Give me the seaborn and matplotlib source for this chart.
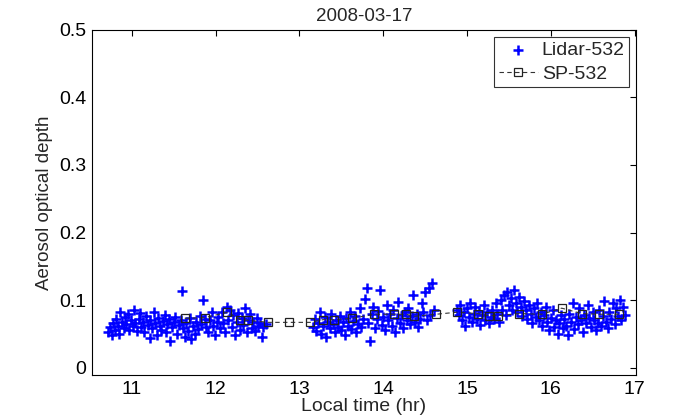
import matplotlib
matplotlib.use("Agg")
import matplotlib.pyplot as plt
import seaborn as sns
import pandas as pd

# Lidar-532 data (local time hr, AOD)
lidar_t1 = [10.72, 10.74, 10.76, 10.78, 10.80, 10.81, 10.83, 10.85, 10.86, 10.88, 10.90, 10.92, 10.93, 10.95, 10.97, 10.99,
            11.01, 11.02, 11.04, 11.06, 11.08, 11.10, 11.11, 11.13, 11.15, 11.17, 11.19, 11.21, 11.22, 11.24, 11.26, 11.28,
            11.30, 11.31, 11.33, 11.35, 11.37, 11.39, 11.41, 11.42, 11.44, 11.46, 11.48, 11.50, 11.52, 11.54, 11.56, 11.58,
            11.60, 11.61, 11.63, 11.65, 11.67, 11.69, 11.71, 11.73, 11.75, 11.77, 11.79, 11.81, 11.83, 11.85, 11.87, 11.89,
            11.91, 11.93, 11.95, 11.97, 11.99, 12.01, 12.03, 12.05, 12.07, 12.09, 12.11, 12.13, 12.15, 12.17, 12.19, 12.21,
            12.23, 12.25, 12.27, 12.29, 12.31, 12.33, 12.35, 12.37, 12.39, 12.41, 12.43, 12.45, 12.47, 12.49, 12.51, 12.53,
            12.55, 12.57, 12.60]
lidar_v1 = [0.052, 0.060, 0.048, 0.066, 0.055, 0.072, 0.061, 0.050, 0.083, 0.068, 0.058, 0.075, 0.064, 0.079, 0.056, 0.070,
            0.062, 0.085, 0.066, 0.054, 0.072, 0.081, 0.060, 0.068, 0.052, 0.077, 0.063, 0.044, 0.070, 0.058, 0.082, 0.066,
            0.049, 0.074, 0.061, 0.056, 0.069, 0.078, 0.053, 0.064, 0.072, 0.040, 0.060, 0.067, 0.075, 0.050, 0.063, 0.071,
            0.113, 0.058, 0.046, 0.066, 0.054, 0.074, 0.042, 0.062, 0.050, 0.068, 0.057, 0.077, 0.064, 0.100, 0.072, 0.060,
            0.052, 0.070, 0.083, 0.061, 0.048, 0.068, 0.075, 0.058, 0.082, 0.066, 0.053, 0.090, 0.071, 0.086, 0.060, 0.078,
            0.048, 0.068, 0.081, 0.056, 0.073, 0.063, 0.088, 0.052, 0.070, 0.079, 0.059, 0.067, 0.054, 0.074, 0.062, 0.066,
            0.045, 0.060, 0.064]
lidar_t2 = [13.16, 13.18, 13.20, 13.22, 13.24, 13.26, 13.28, 13.30, 13.32, 13.34, 13.36, 13.38, 13.40, 13.42, 13.44, 13.46,
            13.48, 13.50, 13.52, 13.54, 13.56, 13.58, 13.60, 13.62, 13.64, 13.66, 13.68, 13.70, 13.72, 13.74, 13.76, 13.78,
            13.80, 13.82, 13.84, 13.86, 13.88, 13.90, 13.92, 13.94, 13.96, 13.98, 14.00, 14.02, 14.04, 14.06, 14.08, 14.10,
            14.12, 14.14, 14.16, 14.18, 14.20, 14.22, 14.24, 14.26, 14.28, 14.30, 14.32, 14.34, 14.36, 14.38, 14.40, 14.42,
            14.44, 14.46, 14.48, 14.50, 14.52, 14.54, 14.56, 14.58, 14.60]
lidar_v2 = [0.060, 0.072, 0.054, 0.066, 0.082, 0.050, 0.062, 0.075, 0.045, 0.068, 0.058, 0.080, 0.064, 0.052, 0.071, 0.060,
            0.077, 0.056, 0.068, 0.048, 0.073, 0.062, 0.083, 0.057, 0.069, 0.076, 0.053, 0.065, 0.088, 0.060, 0.072, 0.102,
            0.118, 0.066, 0.040, 0.079, 0.090, 0.058, 0.072, 0.084, 0.115, 0.063, 0.075, 0.055, 0.093, 0.070, 0.080, 0.062,
            0.086, 0.052, 0.073, 0.097, 0.066, 0.078, 0.059, 0.083, 0.070, 0.088, 0.064, 0.076, 0.108, 0.068, 0.080, 0.060,
            0.072, 0.095, 0.082, 0.112, 0.070, 0.118, 0.078, 0.125, 0.085]
lidar_t3 = [14.88, 14.90, 14.92, 14.94, 14.96, 14.98, 15.00, 15.02, 15.04, 15.06, 15.08, 15.10, 15.12, 15.14, 15.16, 15.18,
            15.20, 15.22, 15.24, 15.26, 15.28, 15.30, 15.32, 15.34, 15.36, 15.38, 15.40, 15.42, 15.44, 15.46, 15.48, 15.50,
            15.52, 15.54, 15.56, 15.58, 15.60, 15.62, 15.64, 15.66, 15.68, 15.70, 15.72, 15.74, 15.76, 15.78, 15.80, 15.82,
            15.84, 15.86, 15.88, 15.90, 15.92, 15.94, 15.96, 15.98, 16.00, 16.02, 16.04, 16.06, 16.08, 16.10, 16.12, 16.14,
            16.16, 16.18, 16.20, 16.22, 16.24, 16.26, 16.28, 16.30, 16.32, 16.34, 16.36, 16.38, 16.40, 16.42, 16.44, 16.46,
            16.48, 16.50, 16.52, 16.54, 16.56, 16.58, 16.60, 16.62, 16.64, 16.66, 16.68, 16.70, 16.72, 16.74, 16.76, 16.78,
            16.80, 16.82, 16.84, 16.86, 16.88]
lidar_v3 = [0.085, 0.078, 0.092, 0.070, 0.083, 0.062, 0.088, 0.075, 0.095, 0.068, 0.080, 0.090, 0.072, 0.084, 0.063, 0.078,
            0.092, 0.070, 0.082, 0.066, 0.075, 0.086, 0.072, 0.095, 0.080, 0.068, 0.100, 0.085, 0.108, 0.078, 0.112, 0.092,
            0.103, 0.085, 0.115, 0.096, 0.082, 0.105, 0.090, 0.077, 0.098, 0.086, 0.072, 0.093, 0.080, 0.066, 0.088, 0.075,
            0.096, 0.070, 0.082, 0.062, 0.078, 0.090, 0.068, 0.056, 0.074, 0.085, 0.060, 0.070, 0.050, 0.066, 0.078, 0.058,
            0.072, 0.062, 0.048, 0.080, 0.068, 0.095, 0.057, 0.075, 0.064, 0.088, 0.070, 0.052, 0.078, 0.066, 0.092, 0.074,
            0.060, 0.083, 0.071, 0.055, 0.066, 0.086, 0.062, 0.076, 0.098, 0.068, 0.058, 0.082, 0.072, 0.096, 0.064, 0.088,
            0.076, 0.100, 0.070, 0.090, 0.078]

# SP-532 (sun photometer) data
sp_t = [11.63, 11.87, 12.14, 12.29, 12.39, 12.63, 12.87, 13.13, 13.28, 13.41, 13.63, 13.89, 14.13,
        14.27, 14.37, 14.63, 14.88, 15.13, 15.26, 15.37, 15.62, 15.89, 16.13, 16.37, 16.58, 16.81]
sp_v = [0.073, 0.074, 0.082, 0.071, 0.070, 0.067, 0.067, 0.067, 0.071, 0.071, 0.073, 0.079, 0.079,
        0.079, 0.076, 0.079, 0.082, 0.080, 0.077, 0.077, 0.080, 0.079, 0.088, 0.080, 0.079, 0.079]

x_ticks = [11, 12, 13, 14, 15, 16, 17]
y_ticks = [0, 0.1, 0.2, 0.3, 0.4, 0.5]

lidar = pd.DataFrame({"t": lidar_t1 + lidar_t2 + lidar_t3, "aod": lidar_v1 + lidar_v2 + lidar_v3})
sp = pd.DataFrame({"t": sp_t, "aod": sp_v})

sns.set_style("white")
plt.rcParams['font.family'] = ['Liberation Sans', 'DejaVu Sans']

fig = plt.figure(figsize=(7, 4.2), dpi=100)
ax = fig.add_axes([0.131, 0.107, 0.778, 0.822])

sns.scatterplot(data=lidar, x="t", y="aod", marker="+", color="#0000ff", s=55,
                linewidth=1.8, ax=ax, label="Lidar-532", zorder=2)
sns.lineplot(data=sp, x="t", y="aod", marker="s", color="#333333", linestyle=(0, (4, 3)),
             linewidth=0.8, markersize=6, markerfacecolor="none", markeredgecolor="#222222",
             markeredgewidth=0.9, ax=ax, label="SP-532", zorder=3, estimator=None)

ax.set_xlim(10.52, 17.02)
ax.set_ylim(-0.011, 0.5)
ax.set_xticks(x_ticks)
ax.set_yticks(y_ticks)
ax.set_xticklabels([str(v) for v in x_ticks])
ax.set_yticklabels(["0", "0.1", "0.2", "0.3", "0.4", "0.5"])
ax.tick_params(direction="in", length=4, width=0.8, top=True, right=True, labelsize=14, colors="black",
               pad=4)
for sp_ in ax.spines.values():
    sp_.set_color("black")
    sp_.set_linewidth(0.8)

ax.set_title("2008-03-17", fontsize=13.5, pad=6)
ax.set_xlabel("Local time (hr)", fontsize=14, labelpad=0)
ax.set_ylabel("Aerosol optical depth", fontsize=13.5, labelpad=4)

leg = ax.legend(loc="upper right", fontsize=14, frameon=True, fancybox=False, edgecolor="black",
                borderpad=0.25, handlelength=2.0, handletextpad=0.2, labelspacing=0.3,
                borderaxespad=0.35)
leg.get_frame().set_linewidth(0.8)

fig.savefig("out.png", dpi=100, facecolor="white")
